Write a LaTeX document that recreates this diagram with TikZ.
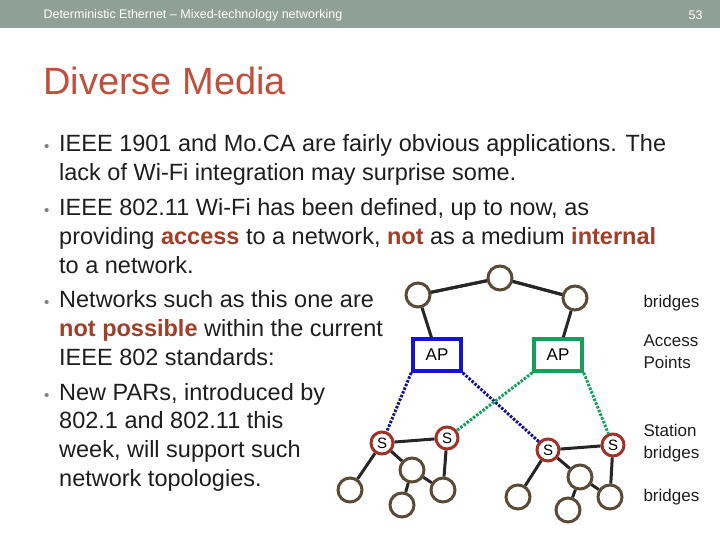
\documentclass[tikz,border=0pt]{standalone}
\usepackage{fontspec}
\setmainfont{Liberation Sans}
\definecolor{hdr}{RGB}{143,160,150}
\definecolor{ttl}{RGB}{192,80,60}
\definecolor{emph}{RGB}{160,62,40}
\definecolor{brd}{RGB}{90,75,55}
\definecolor{sred}{RGB}{160,50,40}
\definecolor{apb}{RGB}{20,20,210}
\definecolor{apg}{RGB}{20,160,90}
\definecolor{dotb}{RGB}{20,20,140}
\definecolor{txt}{RGB}{30,30,30}
\begin{document}
\begin{tikzpicture}[x=1pt,y=-1pt,
  br/.style={circle,draw=brd,line width=3pt,minimum size=24pt,inner sep=0pt,fill=white},
  sn/.style={circle,draw=sred,line width=3pt,minimum size=22pt,inner sep=0pt,fill=white,font=\fontsize{15}{15}\selectfont},
  ap/.style={draw=#1,line width=3.5pt,minimum width=48pt,minimum height=32pt,inner sep=0pt,fill=white,font=\fontsize{17}{17}\selectfont},
  ln/.style={line width=3pt,draw=black!85},
  dl/.style={line width=3pt,dash pattern=on 2.5pt off 1.5pt,draw=#1},
  lab/.style={font=\fontsize{17}{22}\selectfont,color=txt,align=left,anchor=west},
  bl/.style={font=\fontsize{23.5}{29}\selectfont,color=txt,anchor=base west,inner sep=0pt}]
\useasboundingbox (0,0) rectangle (720,540);
\fill[hdr] (0,0) rectangle (720,28);
\node[anchor=west,white,font=\fontsize{12.5}{12.5}\selectfont] (h1) at (40,15) {Deterministic Ethernet – Mixed-technology networking};
\node[anchor=east,white,font=\fontsize{12.5}{12.5}\selectfont] (h2) at (706,15) {53};
\node[anchor=base west,ttl,font=\fontsize{38}{38}\selectfont,inner sep=0pt] (t) at (43,95) {Diverse Media};
\foreach \y/\b/\t in {
 152/•/IEEE 1901 and Mo.CA are fairly obvious applications. The,
 181//lack of Wi-Fi integration may surprise some.,
 215/•/IEEE 802.11 Wi-Fi has been defined{,} up to now{,} as,
 273//to a network.,
 307/•/Networks such as this one are,
 365//IEEE 802 standards:,
 400/•/New PARs{,} introduced by,
 428//802.1 and 802.11 this,
 457//week{,} will support such,
 486//network topologies.}
 {\node[bl] at (59,\y) {\t}; \node[bl,font=\fontsize{15}{15}\selectfont,color=gray] at (44,\y) {\b};}
\node[bl] (l4) at (59,244) {providing \textcolor{emph}{\textbf{access}} to a network, \textcolor{emph}{\textbf{not}} as a medium \textcolor{emph}{\textbf{internal}}};
\node[bl] (l7) at (59,336) {\textcolor{emph}{\textbf{not possible}} within the current};
\draw[ln] (418,295)--(500,278)--(575,298);
\node[br] (tc) at (500,278) {};
\node[br] (tl) at (418,295) {};
\node[br] (tr) at (575,298) {};
\node[ap=apb] (a1) at (437,355) {AP};
\node[ap=apg] (a2) at (558,355) {AP};
\node[sn] (s1) at (382,443) {S};
\node[sn] (s2) at (447,438) {S};
\node[sn] (s3) at (548,450) {S};
\node[sn] (s4) at (613,445) {S};
\node[br] (b1) at (350,490) {};
\node[br] (b2) at (412,470) {};
\node[br] (b3) at (443,490) {};
\node[br] (b4) at (402,505) {};
\node[br] (b5) at (518,497) {};
\node[br] (b6) at (580,477) {};
\node[br] (b7) at (610,497) {};
\node[br] (b8) at (568,510) {};
\draw[ln] (tl)--(tc) (tc)--(tr) (tl)--(a1) (tr)--(a2);
\draw[ln] (s1)--(s2) (s1)--(b1) (s1)--(b2) (b2)--(b3) (b2)--(b4) (s2)--(b3);
\draw[ln] (s3)--(s4) (s3)--(b5) (s3)--(b6) (b6)--(b7) (b6)--(b8) (s4)--(b7);
\draw[dl=dotb] (a1.south west)--(s1) (a1.south east)--(s3);
\draw[dl=apg] (a2.south west)--(s2) (a2.south east)--(s4);
\node[lab] (lb1) at (640,303) {bridges};
\node[lab] (lb2) at (640,352) {Access\\Points};
\node[lab] (lb3) at (640,443) {Station\\bridges};
\node[lab] (lb4) at (640,497) {bridges};
\end{tikzpicture}
\end{document}
